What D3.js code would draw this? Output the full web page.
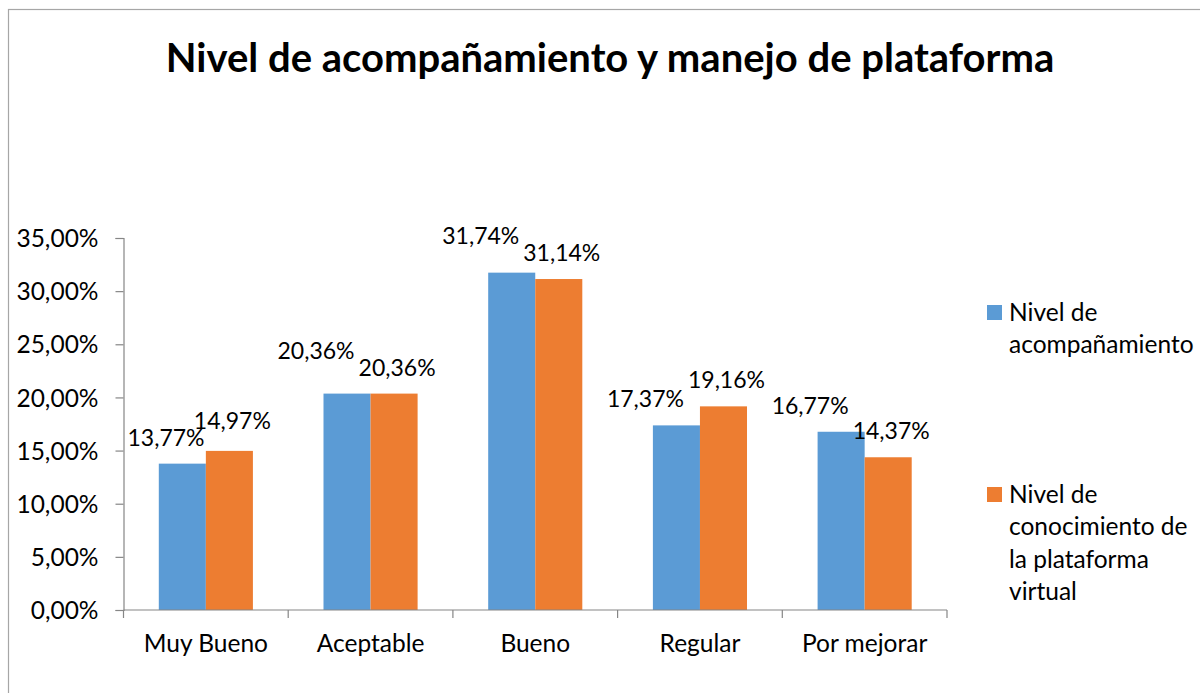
<!DOCTYPE html>
<html>
<head>
<meta charset="utf-8">
<script src="https://cdn.jsdelivr.net/npm/d3@7"></script>
<style>
	body { margin: 0; background: #fff; }
	svg text { font-family: Lato, "Noto Sans", sans-serif; fill: #000; }
</style>
</head>
<body>
<div id="chart"></div>
<script>
// Chart data
var categories = ["Muy Bueno", "Aceptable", "Bueno", "Regular", "Por mejorar"];
var acompanamiento = [13.77, 20.36, 31.74, 17.37, 16.77];
var conocimiento = [14.97, 20.36, 31.14, 19.16, 14.37];
var seriesKeys = ["acompanamiento", "conocimiento"];
var legendLines = [["Nivel de", "acompañamiento"], ["Nivel de", "conocimiento de", "la plataforma", "virtual"]];
var yTicks = [0, 5, 10, 15, 20, 25, 30, 35];
var title = "Nivel de acompañamiento y manejo de plataforma";

// SVG width and height
var width = 1200;
var height = 693;
var fontSize = "24.5px";
var colors = { acompanamiento: "#5B9BD5", conocimiento: "#ED7D31" };
var axisX = 123.5;

var svg = d3.select("#chart").append("svg")
	.attr("width", width)
	.attr("height", height);

// Chart frame (runs past the right and bottom edges)
svg.append("rect")
	.attr("x", 8.5).attr("y", 9.5)
	.attr("width", 1260).attr("height", 720)
	.attr("fill", "#fff")
	.attr("stroke", "#a6a6a6")
	.attr("stroke-width", 1.2);

// Title
svg.append("text")
	.attr("x", 610).attr("y", 72)
	.attr("text-anchor", "middle")
	.style("font-size", "40px")
	.style("font-weight", "bold")
	.text(title);

// Scales
var x = d3.scaleBand()
	.domain(categories)
	.range([axisX, 947])
	.paddingInner(0.4286)
	.paddingOuter(0.2143);
var xs = d3.scaleBand()
	.domain(seriesKeys)
	.range([0, x.bandwidth()]);
var y = d3.scaleLinear()
	.domain([0, 35])
	.range([610, 238]);

var rows = categories.map(function(c, i){
	return { cat: c, acompanamiento: acompanamiento[i], conocimiento: conocimiento[i] };
});

// Bars
var groups = svg.append("g").selectAll("g")
	.data(rows)
	.enter().append("g")
	.attr("transform", function(d){ return "translate(" + x(d.cat) + ",0)"; });

groups.selectAll("rect")
	.data(function(d){ return seriesKeys.map(function(k){ return { key: k, value: d[k] }; }); })
	.enter().append("rect")
	.attr("x", function(d){ return xs(d.key); })
	.attr("y", function(d){ return y(d.value); })
	.attr("width", xs.bandwidth())
	.attr("height", function(d){ return y(0) - y(d.value); })
	.attr("fill", function(d){ return colors[d.key]; });

// Data labels: blue ones pushed left; if a pair sits at nearly the same height,
// the label of the taller bar is lifted one step
var labelShift = { acompanamiento: -31, conocimiento: 3 };
function labelData(d){
	var pts = seriesKeys.map(function(k){ return { key: k, cat: d.cat, value: d[k], ly: y(d[k]) - 18 }; });
	if (Math.abs(pts[0].ly - pts[1].ly) < 18){
		var hi = pts[0].value >= pts[1].value ? 0 : 1;
		var lo = 1 - hi;
		pts[hi].ly = pts[lo].ly - 17;
	}
	return pts;
}
groups.selectAll("text.lbl")
	.data(labelData)
	.enter().append("text")
	.attr("class", "lbl")
	.attr("y", function(d){ return d.ly; })
	.attr("text-anchor", "middle")
	.style("font-size", "23px")
	.text(function(d){ return d.value.toFixed(2).replace(".", ",") + "%"; })
	.attr("x", function(d){
		var cx = xs(d.key) + xs.bandwidth() / 2 + labelShift[d.key];
		// keep labels clear of the value axis line
		var minX = axisX + 4 - x(d.cat) + this.getComputedTextLength() / 2;
		return Math.max(cx, minX);
	});

// Y axis
var yAxis = svg.append("g")
	.attr("transform", "translate(" + axisX + ",0)")
	.call(d3.axisLeft(y)
		.tickValues(yTicks)
		.tickSize(8)
		.tickPadding(17)
		.tickFormat(function(d){ return d.toFixed(2).replace(".", ",") + "%"; }));
yAxis.select(".domain").attr("stroke", "#868686").attr("stroke-width", 1.2);
yAxis.selectAll(".tick line").attr("stroke", "#868686").attr("stroke-width", 1.2);
yAxis.selectAll(".tick text")
	.style("font-size", fontSize)
	.attr("fill", "#000")
	.attr("dy", "0.35em");

// X axis: labels from the band scale, ticks at category boundaries
var xAxis = svg.append("g")
	.attr("transform", "translate(0," + y(0) + ")")
	.call(d3.axisBottom(x).tickSize(0).tickPadding(25));
xAxis.select(".domain").remove();
xAxis.selectAll(".tick text")
	.style("font-size", fontSize)
	.attr("fill", "#000");
xAxis.append("line")
	.attr("x1", x.range()[0]).attr("x2", x.range()[1])
	.attr("stroke", "#868686").attr("stroke-width", 1.2);
var bounds = categories.map(function(c){ return x(c) - x.step() * x.paddingInner() / 2; });
bounds.push(x.range()[1]);
xAxis.selectAll("line.bound")
	.data(bounds)
	.enter().append("line")
	.attr("class", "bound")
	.attr("x1", function(d){ return d; }).attr("x2", function(d){ return d; })
	.attr("y1", 0).attr("y2", 8)
	.attr("stroke", "#868686").attr("stroke-width", 1.2);

// Legend
var legendTop = [305, 487];
var legend = svg.append("g").selectAll("g")
	.data(seriesKeys)
	.enter().append("g")
	.attr("transform", function(d, i){ return "translate(987," + legendTop[i] + ")"; });
legend.append("rect")
	.attr("width", 15).attr("height", 15)
	.attr("fill", function(d){ return colors[d]; });
legend.append("text")
	.style("font-size", fontSize)
	.selectAll("tspan")
	.data(function(d, i){ return legendLines[i]; })
	.enter().append("tspan")
	.attr("x", 22)
	.attr("y", function(d, j){ return 16 + j * 32.3; })
	.text(function(d){ return d; });
</script>
</body>
</html>
